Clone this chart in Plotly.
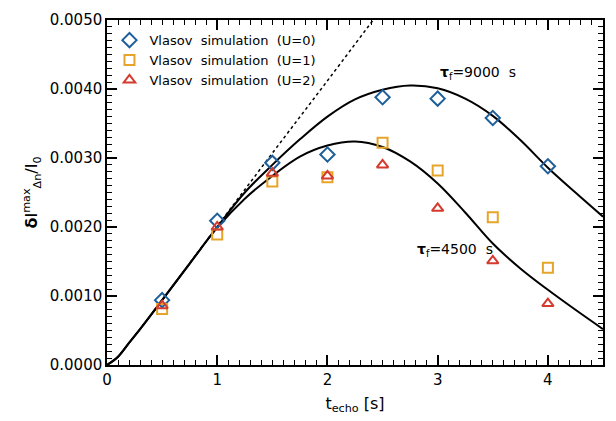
import plotly.graph_objects as go

# --- data ---
t_sim = [0.5, 1.0, 1.5, 2.0, 2.5, 3.0, 3.5, 4.0]
u0 = [0.00094, 0.00209, 0.00293, 0.00305, 0.00388, 0.00386, 0.00358, 0.00288]
u1 = [0.00081, 0.00189, 0.00266, 0.00272, 0.00322, 0.00282, 0.00214, 0.00141]
u2 = [0.00086, 0.00200, 0.00278, 0.00274, 0.00290, 0.00227, 0.00151, 0.00089]

t_model = [0.0, 0.1, 0.2, 0.3, 0.5, 0.75, 1.0, 1.25, 1.5, 1.75, 2.0, 2.25, 2.5,
           2.75, 3.0, 3.25, 3.5, 3.75, 4.0, 4.25, 4.5]
tau9000 = [0.0, 0.00012, 0.00032, 0.00052, 0.00094, 0.00147, 0.00200, 0.00250,
           0.00290, 0.00327, 0.00360, 0.00385, 0.00399, 0.00405, 0.00401,
           0.00386, 0.00361, 0.00326, 0.00286, 0.00250, 0.00215]
tau4500 = [0.0, 0.00012, 0.00032, 0.00052, 0.00094, 0.00147, 0.00199, 0.00241,
           0.00274, 0.00302, 0.00318, 0.00324, 0.00316, 0.00295, 0.00263,
           0.00221, 0.00176, 0.00140, 0.00109, 0.00080, 0.00052]

t_lin = [0.0, 0.1, 0.2, 0.3, 0.5, 1.0, 1.5, 2.0, 2.5, 2.7]
lin = [0.0, 0.00012, 0.00032, 0.00052, 0.00094, 0.00201, 0.00307, 0.00412,
       0.00518, 0.00560]

labels = ["Vlasov  simulation  (U=0)", "Vlasov  simulation  (U=1)",
          "Vlasov  simulation  (U=2)"]
tau_labels = ["<b>τ</b><sub>f</sub>=9000  s", "<b>τ</b><sub>f</sub>=4500  s"]

FONT = "DejaVu Sans"

fig = go.Figure()

fig.add_trace(go.Scatter(x=t_lin, y=lin, mode="lines", showlegend=False,
                         line=dict(color="black", width=1.5, dash="dot", shape="spline")))
fig.add_trace(go.Scatter(x=t_model, y=tau9000, mode="lines", showlegend=False,
                         line=dict(color="black", width=2, shape="spline")))
fig.add_trace(go.Scatter(x=t_model, y=tau4500, mode="lines", showlegend=False,
                         line=dict(color="black", width=2, shape="spline")))

fig.add_trace(go.Scatter(x=t_sim, y=u0, mode="markers", name=labels[0],
                         marker=dict(symbol="diamond-open", size=11, color="#1f5f99",
                                     line=dict(width=2, color="#1f5f99"))))
fig.add_trace(go.Scatter(x=t_sim, y=u1, mode="markers", name=labels[1],
                         marker=dict(symbol="square-open", size=10, color="#e6a52a",
                                     line=dict(width=2, color="#e6a52a"))))
fig.add_trace(go.Scatter(x=t_sim, y=u2, mode="markers", name=labels[2],
                         marker=dict(symbol="triangle-up-open", size=10, color="#d43a2e",
                                     line=dict(width=2, color="#d43a2e"))))

fig.add_annotation(x=3.0, y=0.00423, text=tau_labels[0], showarrow=False,
                   xanchor="left", yanchor="middle", font=dict(family=FONT, size=14, color="black"))
fig.add_annotation(x=2.79, y=0.00166, text=tau_labels[1], showarrow=False,
                   xanchor="left", yanchor="middle", font=dict(family=FONT, size=14, color="black"))

axis_common = dict(showline=True, linecolor="black", linewidth=1.5, mirror="ticks",
                   ticks="inside", ticklen=10, tickwidth=1.5, tickcolor="black",
                   showgrid=False, zeroline=False,
                   tickfont=dict(family=FONT, size=15, color="black"))

fig.update_xaxes(range=[0, 4.5], dtick=1, tick0=0,
                 minor=dict(dtick=0.1, ticks="inside", ticklen=5, tickwidth=1, tickcolor="black"),
                 title=dict(text="t<sub>echo</sub> [s]", font=dict(family=FONT, size=16, color="black"),
                            standoff=10),
                 **axis_common)
fig.update_yaxes(range=[0, 0.005], dtick=0.001, tick0=0, tickformat=".4f",
                 minor=dict(dtick=0.0001, ticks="inside", ticklen=5, tickwidth=1, tickcolor="black"),
                 title=dict(text="<b>δ</b>I<sup>max</sup><sub>Δn</sub>/I<sub>0</sub>",
                            font=dict(family=FONT, size=16, color="black"), standoff=8),
                 **axis_common)

fig.update_layout(
    width=616, height=421,
    margin=dict(l=107, r=11, t=13, b=56),
    plot_bgcolor="white", paper_bgcolor="white",
    legend=dict(x=0.005, y=0.985, xanchor="left", yanchor="top",
                bgcolor="rgba(0,0,0,0)", font=dict(family=FONT, size=13, color="black"),
                tracegroupgap=0, itemwidth=30),
)

fig.write_html("out.html")
